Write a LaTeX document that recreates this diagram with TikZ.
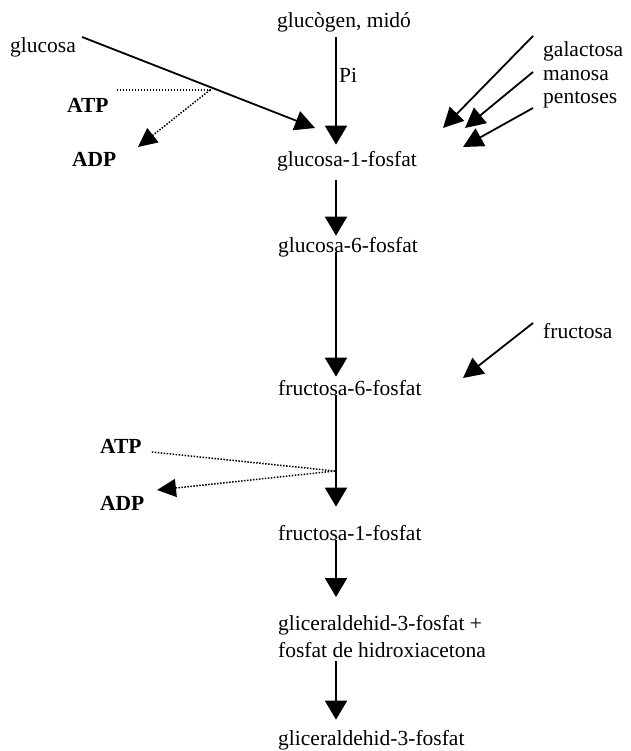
\documentclass[tikz,border=0pt]{standalone}
\usepackage{fontspec}
\setmainfont{Liberation Serif}
\usetikzlibrary{arrows.meta,calc}
\begin{document}
\begin{tikzpicture}[x=1pt,y=-1pt,
  lbl/.style={anchor=base west, inner sep=0pt, font=\fontsize{21.5}{27}\selectfont},
  boldlbl/.style={lbl, font=\fontsize{21.5}{27}\selectfont\bfseries},
  flow/.style={line width=2pt, -{Triangle[length=19pt,width=22pt]}},
  feed/.style={line width=1.8pt, -{Triangle[length=20pt,width=20pt]}},
  dotline/.style={line width=1.5pt, dash pattern=on 1.5pt off 1.5pt},
  dotarrow/.style={dotline, -{Triangle[length=19pt,width=18pt]}}]
\useasboundingbox (0,0) rectangle (630,751);

% metabolites along the main pathway
\node[lbl] (glg) at (277,28) {glucògen, midó};
\node[lbl] (pi)  at (339,83) {Pi};
\node[lbl] (g1)  at (277,167) {glucosa-1-fosfat};
\node[lbl] (g6)  at (278,252) {glucosa-6-fosfat};
\node[lbl] (f6)  at (278,395) {fructosa-6-fosfat};
\node[lbl] (f1)  at (278,540) {fructosa-1-fosfat};
\node[lbl, anchor=north west, align=left] (gl) at (278,615)
  {gliceraldehid-3-fosfat +\\fosfat de hidroxiacetona};
\node[lbl] (fin) at (278,745) {gliceraldehid-3-fosfat};

% side inputs
\node[lbl] (glc) at (10,53) {glucosa};
\node[lbl] (gal) at (543,57) {galactosa};
\node[lbl] (man) at (543,81) {manosa};
\node[lbl] (pen) at (543,104) {pentoses};
\node[lbl] (fru) at (543,338) {fructosa};

% cofactors
\node[boldlbl] (atp1) at (67,113) {ATP};
\node[boldlbl] (adp1) at (72,167) {ADP};
\node[boldlbl] (atp2) at (100,453) {ATP};
\node[boldlbl] (adp2) at (100,510) {ADP};

% free ends of the side arrows
\coordinate (axis) at (336,0);
\coordinate (tglc) at (315,128);
\coordinate (tgal) at (443,128);
\coordinate (tman) at (465,128);
\coordinate (tpen) at (463,147);
\coordinate (tfru) at (463,378);
\coordinate (j1) at (210,90);
\coordinate (tadp1) at (138,147);
\coordinate (j2) at (335,471);
\coordinate (tadp2) at (157,490);

% main pathway
\draw[flow, shorten <=4pt, shorten >=7pt] (glg.south -| axis) -- (g1.north -| axis);
\draw[flow, shorten <=8pt, shorten >=1pt] (g1.south -| axis) -- (g6.north -| axis);
\draw[flow, shorten >=3pt] (g6.base -| axis) -- (f6.north -| axis);
\draw[flow, shorten >=18pt] (f6.base -| axis) -- (f1.north -| axis);
\draw[flow, shorten >=18pt] (f1.base -| axis) -- (gl.north -| axis);
\draw[flow, shorten <=3pt, shorten >=10pt] (gl.south -| axis) -- (fin.north -| axis);

% entries of other sugars
\draw[feed] ($(glc.base east)+(6,-16)$) -- (tglc);
\draw[feed] ($(gal.base west)+(-10,-21)$) -- (tgal);
\draw[feed] ($(man.base west)+(-10,-9)$) -- (tman);
\draw[feed] ($(pen.base west)+(-10,4)$) -- (tpen);
\draw[feed] ($(fru.base west)+(-10,-15)$) -- (tfru);

% ATP consumption
\draw[dotline] ($(atp1.base east)+(8,-23)$) -- (j1);
\draw[dotarrow] (j1) -- (tadp1);
\draw[dotline] ($(atp2.base east)+(10,-1)$) -- (j2);
\draw[dotarrow] (j2) -- (tadp2);
\end{tikzpicture}
\end{document}
